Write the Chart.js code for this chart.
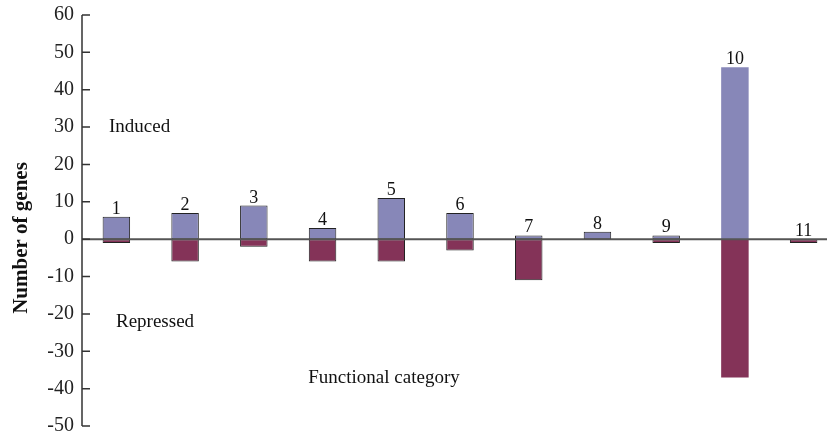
<!DOCTYPE html>
<html>
<head>
<meta charset="utf-8">
<script src="https://cdn.jsdelivr.net/npm/chart.js@4.4.0/dist/chart.umd.min.js"></script>
<style>
  html, body { margin: 0; padding: 0; background: #fff; overflow: hidden; }
  canvas { display: block; }
</style>
</head>
<body>
<canvas id="c" width="840" height="432"></canvas>
<script>
// Gene counts per functional category
const categories = ['1', '2', '3', '4', '5', '6', '7', '8', '9', '10', '11'];
const induced    = [6, 7, 9, 3, 11, 7, 1, 2, 1, 46, 0];
const repressed  = [-1, -6, -2, -6, -6, -3, -11, 0, -1, -37, -1];
const yTicks     = [60, 50, 40, 30, 20, 10, 0, -10, -20, -30, -40, -50];

const SERIF = '"Liberation Serif", "Times New Roman", serif';
const noBorder = categories.map(c => c === '10' ? 0 : 1);

// Zero line, inward tick marks, category numbers and free text
const decorations = {
  id: 'decorations',
  afterDatasetsDraw(chart) {
    const { ctx, chartArea, scales } = chart;
    const y = scales.y, x = scales.x;
    ctx.save();

    // baseline at zero
    const y0 = y.getPixelForValue(0);
    ctx.strokeStyle = '#555';
    ctx.lineWidth = 2;
    ctx.beginPath();
    ctx.moveTo(chartArea.left, y0);
    ctx.lineTo(chart.width, y0);
    ctx.stroke();

    // y axis line and ticks pointing inward
    ctx.strokeStyle = '#333';
    ctx.lineWidth = 1.5;
    ctx.beginPath();
    ctx.moveTo(chartArea.left, y.getPixelForValue(60));
    ctx.lineTo(chartArea.left, y.getPixelForValue(-50));
    yTicks.forEach(v => {
      const p = y.getPixelForValue(v);
      ctx.moveTo(chartArea.left, p);
      ctx.lineTo(chartArea.left + 8, p);
    });
    ctx.stroke();

    // category numbers above each bar
    ctx.fillStyle = '#111';
    ctx.font = '18px ' + SERIF;
    ctx.textAlign = 'center';
    ctx.textBaseline = 'alphabetic';
    categories.forEach((c, i) => {
      const top = y.getPixelForValue(Math.max(induced[i], 0));
      ctx.fillText(c, x.getPixelForValue(i), top - 3);
    });

    // region notes
    ctx.font = '19px ' + SERIF;
    ctx.textAlign = 'left';
    ctx.textBaseline = 'middle';
    ctx.fillText('Induced', 109, 127);
    ctx.fillText('Repressed', 116, 322);
    ctx.textAlign = 'center';
    ctx.fillText('Functional category', 384, 378);

    // y axis title
    ctx.font = 'bold 21px ' + SERIF;
    ctx.translate(22, 238);
    ctx.rotate(-Math.PI / 2);
    ctx.fillText('Number of genes', 0, 0);

    ctx.restore();
  }
};

new Chart(document.getElementById('c'), {
  type: 'bar',
  data: {
    labels: categories,
    datasets: [
      {
        label: 'Induced',
        data: induced,
        backgroundColor: '#8787b8',
        borderColor: '#222',
        borderWidth: noBorder,
        borderSkipped: false
      },
      {
        label: 'Repressed',
        data: repressed,
        backgroundColor: '#843358',
        borderColor: '#222',
        borderWidth: noBorder,
        borderSkipped: false
      }
    ]
  },
  options: {
    responsive: false,
    animation: false,
    devicePixelRatio: 1,
    layout: { padding: { top: 15, bottom: 6, left: 0, right: 2 } },
    plugins: {
      legend: { display: false },
      tooltip: { enabled: false }
    },
    datasets: {
      bar: { barPercentage: 0.4, categoryPercentage: 1 }
    },
    scales: {
      x: {
        stacked: true,
        display: false
      },
      y: {
        stacked: true,
        min: -50,
        max: 60,
        afterFit(scale) {
          scale.width = 82;
          scale.paddingTop = 0;
          scale.paddingBottom = 0;
        },
        afterBuildTicks(scale) { scale.ticks = yTicks.map(v => ({ value: v })); },
        border: { display: false },
        grid: { display: false, drawTicks: false },
        ticks: {
          padding: 8,
          color: '#222',
          font: { family: SERIF, size: 20 }
        }
      }
    }
  },
  plugins: [decorations]
});
</script>
</body>
</html>
